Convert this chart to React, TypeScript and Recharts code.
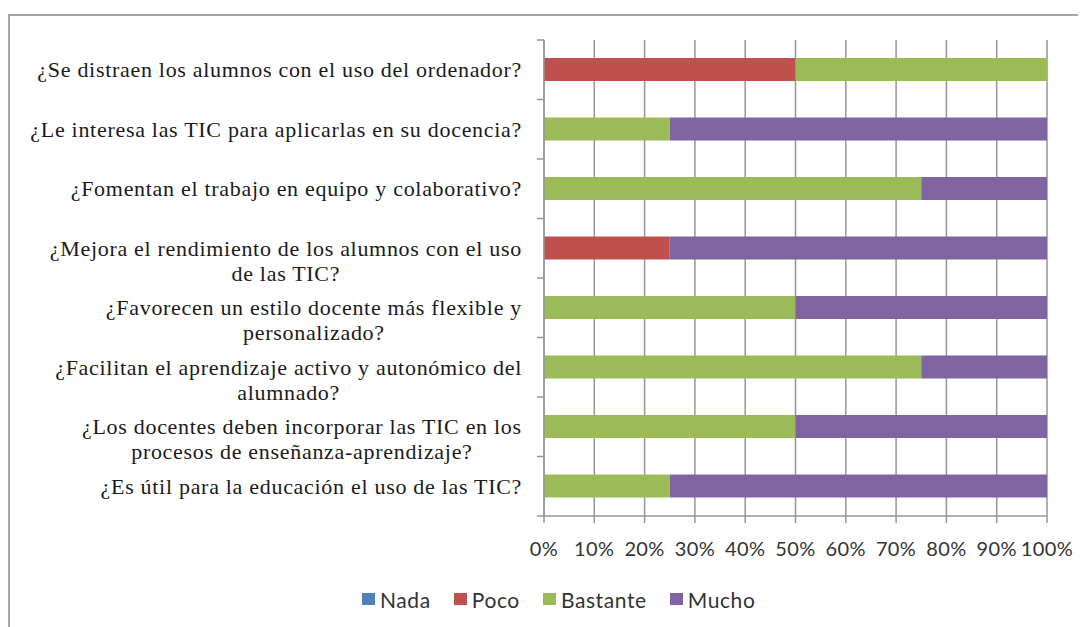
import { BarChart, Bar, XAxis, YAxis, CartesianGrid } from "recharts";

// preguntas (de arriba a abajo), "\n" = salto de línea de la etiqueta
const preguntas = [
  "¿Se distraen los alumnos con el uso del ordenador?",
  "¿Le interesa las TIC para aplicarlas en su docencia?",
  "¿Fomentan el trabajo en equipo y colaborativo?",
  "¿Mejora el rendimiento de los alumnos con el uso\nde las TIC?",
  "¿Favorecen un estilo docente más flexible y\npersonalizado?",
  "¿Facilitan el aprendizaje activo y autonómico del\nalumnado?",
  "¿Los docentes deben incorporar las TIC en los\nprocesos de enseñanza-aprendizaje?",
  "¿Es útil para la educación el uso de las TIC?",
];

// porcentajes por respuesta
const nada = [0, 0, 0, 0, 0, 0, 0, 0];
const poco = [50, 0, 0, 25, 0, 0, 0, 0];
const bastante = [50, 25, 75, 0, 50, 75, 50, 25];
const mucho = [0, 75, 25, 75, 50, 25, 50, 75];

const xTicks = [0, 0.1, 0.2, 0.3, 0.4, 0.5, 0.6, 0.7, 0.8, 0.9, 1];

const series = [
  { key: "Nada", color: "#4F81BD" },
  { key: "Poco", color: "#C0504D" },
  { key: "Bastante", color: "#9BBB59" },
  { key: "Mucho", color: "#8064A2" },
];

const data = preguntas.map((p, i) => ({
  pregunta: p,
  Nada: nada[i],
  Poco: poco[i],
  Bastante: bastante[i],
  Mucho: mucho[i],
}));

const GRIS = "#969696";
const SERIF = "Liberation Serif";
const SANS = "Lato";
const TAM_LABEL = 22;
const ESPACIADO = 0.7;
const ALTO_PLOT = 476;

let ctx: CanvasRenderingContext2D | null = null;
function medir(txt: string) {
  if (!ctx) {
    ctx = document.createElement("canvas").getContext("2d");
  }
  if (!ctx) return txt.length * 10;
  ctx.font = `${TAM_LABEL}px "${SERIF}"`;
  return ctx.measureText(txt).width + txt.length * ESPACIADO;
}

function EtiquetaPregunta(props: any) {
  const { x, y, payload, index } = props;
  const lineas = String(payload.value).split("\n");
  const ancho = Math.max(...lineas.map(medir));
  const banda = ALTO_PLOT / preguntas.length;
  const ejeX = x + 22;
  const cx = lineas.length > 1 ? x - ancho / 2 : x;
  return (
    <g>
      <line x1={ejeX - 7} x2={ejeX} y1={y - banda / 2} y2={y - banda / 2} stroke={GRIS} strokeWidth={1.5} />
      {index === preguntas.length - 1 && (
        <line x1={ejeX - 7} x2={ejeX} y1={y + banda / 2} y2={y + banda / 2} stroke={GRIS} strokeWidth={1.5} />
      )}
      {lineas.map((l, i) => (
        <text
          key={i}
          x={cx}
          y={y + i * 25}
          dy="0.35em"
          textAnchor={lineas.length > 1 ? "middle" : "end"}
          style={{ fontFamily: SERIF, fontSize: TAM_LABEL, letterSpacing: ESPACIADO }}
          fill="#1a1a1a"
        >
          {l}
        </text>
      ))}
    </g>
  );
}

export default function App() {
  return (
    <div style={{ position: "relative", width: 1078, height: 619 }}>
      {/* marco del gráfico */}
      <div
        style={{
          position: "absolute",
          left: 0,
          top: 6,
          width: 1078,
          height: 613,
          boxSizing: "border-box",
          borderTop: "2px solid #a6a6a6",
          borderLeft: "2px solid #a6a6a6",
        }}
      />
      <div style={{ position: "absolute", left: 0, top: 0 }}>
        <BarChart
          width={1078}
          height={619}
          data={data}
          layout="vertical"
          stackOffset="expand"
          barSize={23}
          margin={{ top: 32, right: 39, left: 0, bottom: 81 }}
        >
          <CartesianGrid horizontal={false} stroke={GRIS} strokeWidth={1.5} />
          <XAxis
            type="number"
            domain={[0, 1]}
            ticks={xTicks}
            tickFormatter={(v: number) => `${Math.round(v * 100)}%`}
            height={30}
            tickSize={7}
            tickMargin={19}
            axisLine={{ stroke: GRIS, strokeWidth: 1.5 }}
            tickLine={{ stroke: GRIS, strokeWidth: 1.5 }}
            tick={{ fill: "#333", fontFamily: SANS, fontSize: 20, letterSpacing: 0.4 }}
            interval={0}
          />
          <YAxis
            type="category"
            dataKey="pregunta"
            width={536}
            tickSize={0}
            tickMargin={22}
            tickLine={false}
            axisLine={{ stroke: GRIS, strokeWidth: 1.5 }}
            tick={<EtiquetaPregunta />}
            interval={0}
          />
          {series.map((s) => (
            <Bar key={s.key} dataKey={s.key} stackId="a" fill={s.color} isAnimationActive={false} />
          ))}
        </BarChart>
      </div>
      {/* leyenda */}
      <div
        style={{
          position: "absolute",
          left: 354,
          top: 582,
          height: 18,
          display: "flex",
          alignItems: "center",
          fontFamily: SANS,
          fontSize: 21,
          letterSpacing: 0.6,
          color: "#333",
        }}
      >
        {series.map((s) => (
          <div key={s.key} style={{ display: "flex", alignItems: "center", marginRight: 23 }}>
            <span style={{ width: 13, height: 12, background: s.color, marginRight: 5, display: "inline-block" }} />
            <span>{s.key}</span>
          </div>
        ))}
      </div>
    </div>
  );
}
